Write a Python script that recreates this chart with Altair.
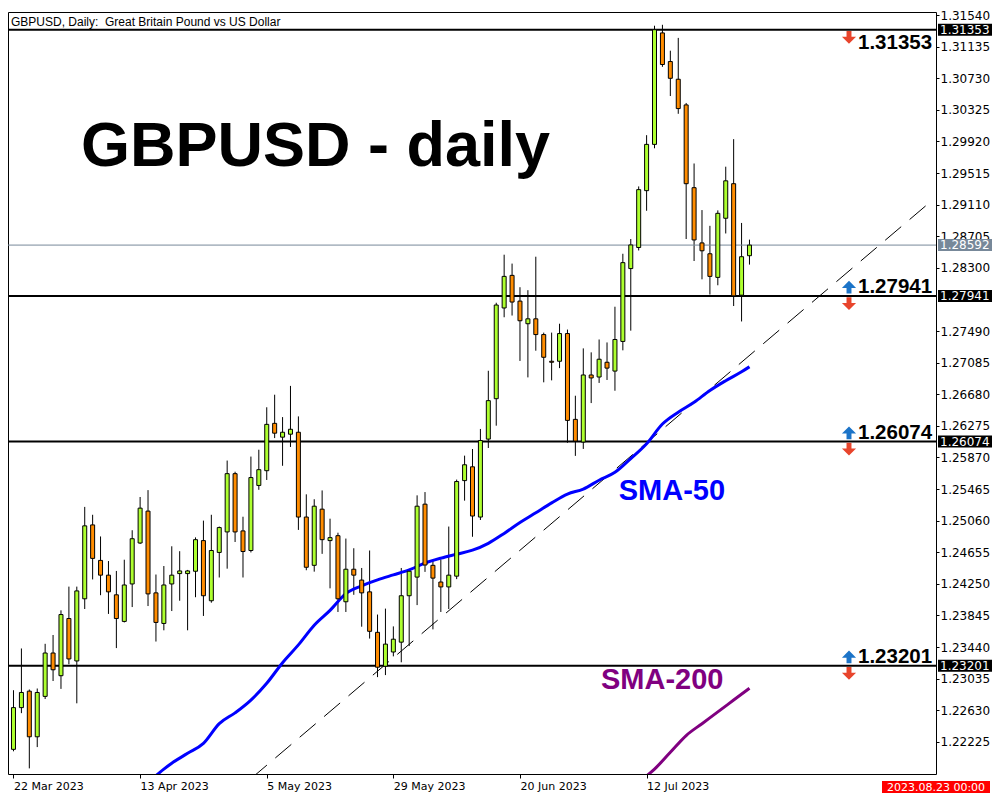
import altair as alt
import pandas as pd

# ---------------- data ----------------
opens = [1.22128, 1.22663, 1.22874, 1.22289, 1.22807, 1.23363, 1.23072, 1.23805, 1.23261, 1.24058,
         1.25005, 1.24550, 1.24361, 1.24109, 1.23768, 1.24248, 1.24773, 1.25182, 1.24134, 1.23742,
         1.24248, 1.24381, 1.24381, 1.24411, 1.24804, 1.24033, 1.24652, 1.24915, 1.25662, 1.24928,
         1.24677, 1.25511, 1.25700, 1.26307, 1.26130, 1.26168, 1.26193, 1.25106, 1.24487, 1.25207,
         1.24804, 1.24867, 1.24020, 1.24437, 1.24298, 1.24147, 1.23628, 1.23193, 1.23376, 1.23502,
         1.24097, 1.24336, 1.25271, 1.24487, 1.24273, 1.24210, 1.24348, 1.25573, 1.25750, 1.25106,
         1.26105, 1.26623, 1.27786, 1.28204, 1.27874, 1.27584, 1.27647, 1.27445, 1.27103, 1.27103,
         1.27458, 1.26358, 1.26067, 1.26927, 1.26901, 1.27090, 1.26977, 1.27357, 1.28291, 1.28561,
         1.29290, 1.29883, 1.31312, 1.30945, 1.30718, 1.30389, 1.29328, 1.28620, 1.28481, 1.28178,
         1.28936, 1.29379, 1.27950, 1.28456]
highs = [1.22886, 1.23421, 1.22895, 1.22908, 1.23481, 1.23594, 1.23910, 1.24214, 1.24214, 1.25236,
         1.25135, 1.24857, 1.24542, 1.24415, 1.24559, 1.24937, 1.25363, 1.25451, 1.24369, 1.24478,
         1.24731, 1.24668, 1.24428, 1.24845, 1.25060, 1.25135, 1.24984, 1.25830, 1.25687, 1.25110,
         1.25881, 1.25969, 1.26513, 1.26674, 1.26387, 1.26787, 1.26396, 1.25397, 1.25334, 1.25447,
         1.25085, 1.24905, 1.24830, 1.24706, 1.24453, 1.24677, 1.23856, 1.23932, 1.23704, 1.24453,
         1.24424, 1.25384, 1.25426, 1.24542, 1.24563, 1.24984, 1.25586, 1.25893, 1.25978, 1.26235,
         1.26981, 1.27853, 1.28469, 1.28355, 1.28052, 1.28014, 1.28443, 1.27470, 1.27470, 1.27584,
         1.27509, 1.26661, 1.27268, 1.27217, 1.27382, 1.27344, 1.27802, 1.28481, 1.28670, 1.29344,
         1.30001, 1.31404, 1.31416, 1.31084, 1.31248, 1.30414, 1.29638, 1.29041, 1.28839, 1.29037,
         1.29597, 1.29950, 1.28876, 1.28662]
lows = [1.22103, 1.22592, 1.21884, 1.22157, 1.22773, 1.23004, 1.22903, 1.23219, 1.22718, 1.23927,
        1.24306, 1.24104, 1.23864, 1.23426, 1.23755, 1.23952, 1.24760, 1.23965, 1.23510, 1.23654,
        1.23901, 1.24033, 1.23654, 1.24078, 1.23838, 1.24008, 1.24331, 1.24444, 1.24786, 1.24331,
        1.24652, 1.25455, 1.25581, 1.26118, 1.25763, 1.26004, 1.24941, 1.24424, 1.24406, 1.24634,
        1.24192, 1.23889, 1.23889, 1.24109, 1.23700, 1.23548, 1.23054, 1.23080, 1.23320, 1.23244,
        1.23452, 1.23977, 1.24403, 1.23666, 1.23889, 1.23927, 1.24310, 1.25316, 1.24853, 1.25068,
        1.25991, 1.26277, 1.27667, 1.27689, 1.27107, 1.26896, 1.27238, 1.26833, 1.26858, 1.27015,
        1.26058, 1.25890, 1.25979, 1.26567, 1.26825, 1.26863, 1.26725, 1.27243, 1.27495, 1.28523,
        1.29032, 1.29833, 1.30877, 1.30503, 1.30275, 1.28670, 1.28388, 1.28153, 1.27958, 1.28077,
        1.28741, 1.27811, 1.27613, 1.28342]
closes = [1.22663, 1.22857, 1.22289, 1.22857, 1.23363, 1.23148, 1.23856, 1.23287, 1.24159, 1.24993,
          1.24576, 1.24361, 1.24147, 1.23805, 1.24235, 1.24828, 1.25220, 1.24121, 1.23755, 1.24235,
          1.24361, 1.24415, 1.24415, 1.24816, 1.24097, 1.24677, 1.24971, 1.25662, 1.24915, 1.24664,
          1.25612, 1.25713, 1.26294, 1.26181, 1.26193, 1.26231, 1.25106, 1.24462, 1.25245, 1.24816,
          1.24842, 1.24058, 1.24437, 1.24361, 1.24134, 1.23641, 1.23181, 1.23477, 1.23540, 1.24097,
          1.24411, 1.25245, 1.24491, 1.24323, 1.24210, 1.24361, 1.25561, 1.25776, 1.25119, 1.26087,
          1.26598, 1.27824, 1.28191, 1.27862, 1.27622, 1.27647, 1.27445, 1.27154, 1.27090, 1.27458,
          1.26345, 1.26080, 1.26927, 1.26889, 1.27129, 1.27015, 1.27382, 1.28367, 1.28594, 1.29303,
          1.29883, 1.31353, 1.30907, 1.30730, 1.30342, 1.29379, 1.28658, 1.28519, 1.28191, 1.28999,
          1.29416, 1.27941, 1.28443, 1.28592]

sma50_idx = [18, 19, 20, 22, 24, 26, 28, 30, 32, 34, 36, 38, 40, 42, 44, 46, 48, 50, 52, 54, 56, 58,
             60, 62, 64, 66, 68, 70, 72, 74, 76, 78, 80, 82, 84, 86, 88, 90, 92, 93]
sma50_val = [1.21790, 1.21875, 1.21951, 1.22077, 1.22204, 1.22457, 1.22596, 1.22760, 1.22975,
             1.23239, 1.23467, 1.23720, 1.23910, 1.24125, 1.24225, 1.24301, 1.24365, 1.24428,
             1.24516, 1.24579, 1.24630, 1.24681, 1.24769, 1.24896, 1.25035, 1.25161, 1.25287,
             1.25401, 1.25464, 1.25578, 1.25679, 1.25856, 1.26046, 1.26298, 1.26450, 1.26576,
             1.26728, 1.26854, 1.26968, 1.27032]
sma200_idx = [80, 81, 83, 85, 87, 89, 91, 93]
sma200_val = [1.21787, 1.21875, 1.22090, 1.22305, 1.22457, 1.22608, 1.22760, 1.22912]

trend_idx = [30, 116]
trend_val = [1.21752, 1.29158]

levels = [1.31353, 1.27941, 1.26074, 1.23201]
current_price = 1.28592

date_idx = [0, 16, 32, 48, 64, 80]
date_lbl = ["22 Mar 2023", "13 Apr 2023", "5 May 2023", "29 May 2023", "20 Jun 2023", "12 Jul 2023"]

# price-scale labels visible on the right axis (1.27895 is hidden behind the 1.27941 box)
ytick_vals = [1.31540, 1.31135, 1.30730, 1.30325, 1.29920, 1.29515, 1.29110, 1.28705, 1.28300,
              1.27490, 1.27085, 1.26680, 1.26275, 1.25870, 1.25465, 1.25060, 1.24655, 1.24250,
              1.23845, 1.23440, 1.23035, 1.22630, 1.22225]

title_text = "GBPUSD - daily"
caption_text = "GBPUSD, Daily:\u00a0 Great Britain Pound vs US Dollar"
time_text = "2023.08.23 00:00"

# ---------------- build tables ----------------
candles = pd.DataFrame({
    "idx": list(range(len(opens))),
    "open": opens, "high": highs, "low": lows, "close": closes,
})
candles["dir"] = ["up" if c >= o else "down" for o, c in zip(opens, closes)]
sma50 = pd.DataFrame({"idx": sma50_idx, "v": sma50_val})
sma200 = pd.DataFrame({"idx": sma200_idx, "v": sma200_val})
trend = pd.DataFrame({"idx": trend_idx, "v": trend_val})
lev = pd.DataFrame({"p": levels, "t": [f"{v:.5f}" for v in levels]})
lev_top = lev.iloc[:1]
lev_rest = lev.iloc[1:]
cur = pd.DataFrame({"p": [current_price], "t": [f"{current_price:.5f}"]})

W, H = 928, 762
xs = alt.Scale(domain=[-0.0625, 115.9375], nice=False, zero=False)
ys = alt.Scale(domain=[1.21812, 1.31580], nice=False, zero=False)

label_expr = " : ".join(f"datum.value == {i} ? '{t}'" for i, t in zip(date_idx, date_lbl)) + " : ''"

x_axis = alt.Axis(values=date_idx, labelExpr=label_expr, labelAlign="left", tickSize=4,
                  labelPadding=2, grid=False, domain=False, labelFont="DejaVu Sans",
                  labelFontSize=11, labelColor="black", tickColor="black",
                  labelOverlap=False, labelFlush=False, zindex=0)
y_axis = alt.Axis(orient="right", values=ytick_vals, format=".5f", tickSize=3,
                  labelPadding=1, grid=False, domain=False, labelFont="DejaVu Sans",
                  labelFontSize=12, labelColor="black", tickColor="black",
                  labelOverlap=False, labelFlush=False, zindex=0)


def Xq(field):
    return alt.X(field, scale=xs, title=None, axis=x_axis)


def Yq(field):
    return alt.Y(field, scale=ys, title=None, axis=y_axis)


base = alt.Chart(candles)

wicks = base.mark_rule(color="black", strokeWidth=1, clip=True).encode(
    x=Xq("idx:Q"), y=Yq("low:Q"), y2="high:Q")
bodies = base.mark_bar(size=4, stroke="black", strokeWidth=1, clip=True).encode(
    x=Xq("idx:Q"), y=Yq("open:Q"), y2="close:Q",
    color=alt.Color("dir:N", scale=alt.Scale(domain=["up", "down"], range=["#ADFF2F", "#FF8C00"]),
                    legend=None))

cur_line = alt.Chart(cur).mark_rule(color="#778899", strokeWidth=1).encode(y=Yq("p:Q"))
lev_lines = alt.Chart(lev).mark_rule(color="black", strokeWidth=2).encode(y=Yq("p:Q"))

trend_line = alt.Chart(trend).mark_line(color="black", strokeWidth=1, strokeDash=[21, 11],
                                        clip=True).encode(x=Xq("idx:Q"), y=Yq("v:Q"))
sma50_line = alt.Chart(sma50).mark_line(color="#0000FF", strokeWidth=3, clip=True,
                                        interpolate="monotone").encode(x=Xq("idx:Q"), y=Yq("v:Q"))
sma200_line = alt.Chart(sma200).mark_line(color="#800080", strokeWidth=3, clip=True,
                                          interpolate="monotone").encode(x=Xq("idx:Q"), y=Yq("v:Q"))

up_arrow = "M0,-1 L1,0 L0.35,0 L0.35,0.8 L-0.35,0.8 L-0.35,0 L-1,0 Z"
down_arrow = "M0,1 L1,0 L0.35,0 L0.35,-0.8 L-0.35,-0.8 L-0.35,0 L-1,0 Z"

arrows_up = alt.Chart(lev_rest).mark_point(shape=up_arrow, size=200, filled=True, color="#1C74C8",
                                           opacity=1, yOffset=-8, strokeWidth=0).encode(
    x=alt.value(841), y=Yq("p:Q"))
arrows_dn = alt.Chart(lev).mark_point(shape=down_arrow, size=200, filled=True, color="#E8452C",
                                      opacity=1, yOffset=7, strokeWidth=0).encode(
    x=alt.value(841), y=Yq("p:Q"))

lev_text_rest = alt.Chart(lev_rest).mark_text(align="left", baseline="alphabetic", dy=-3,
                                              font="Liberation Sans", fontWeight="bold",
                                              fontSize=20.5, color="black").encode(
    x=alt.value(850), y=Yq("p:Q"), text="t:N")
lev_text_top = alt.Chart(lev_top).mark_text(align="left", baseline="alphabetic", dy=19,
                                            font="Liberation Sans", fontWeight="bold",
                                            fontSize=20.5, color="black").encode(
    x=alt.value(850), y=Yq("p:Q"), text="t:N")

# right-axis price boxes
lev_boxes = alt.Chart(lev).mark_rule(color="black", strokeWidth=12, strokeCap="butt").encode(
    x=alt.value(930), x2=alt.value(986), y=Yq("p:Q"))
lev_box_text = alt.Chart(lev).mark_text(align="left", baseline="middle", font="DejaVu Sans",
                                        fontSize=12, color="white").encode(
    x=alt.value(932), y=Yq("p:Q"), text="t:N")
cur_box = alt.Chart(cur).mark_rule(color="#778899", strokeWidth=12, strokeCap="butt").encode(
    x=alt.value(930), x2=alt.value(986), y=Yq("p:Q"))
cur_box_text = alt.Chart(cur).mark_text(align="left", baseline="middle", font="DejaVu Sans",
                                        fontSize=12, color="white").encode(
    x=alt.value(932), y=Yq("p:Q"), text="t:N")

# text annotations
time_df = pd.DataFrame({"t": [time_text]})
time_box = alt.Chart(time_df).mark_rule(color="#FF0000", strokeWidth=12, strokeCap="butt").encode(
    x=alt.value(874), x2=alt.value(982), y=alt.value(775))
time_txt = alt.Chart(time_df).mark_text(align="center", baseline="middle", font="DejaVu Sans",
                                        fontSize=11, color="white").encode(
    x=alt.value(928), y=alt.value(775.5), text="t:N")

title = alt.Chart(pd.DataFrame({"t": [title_text]})).mark_text(
    align="left", baseline="alphabetic", font="Liberation Sans", fontWeight="bold",
    fontSize=63, color="black").encode(x=alt.value(73), y=alt.value(153.8), text="t:N")
caption = alt.Chart(pd.DataFrame({"t": [caption_text]})).mark_text(
    align="left", baseline="alphabetic", font="Liberation Sans", fontSize=12,
    color="black").encode(x=alt.value(3), y=alt.value(14.3), text="t:N")
sma50_lbl = alt.Chart(pd.DataFrame({"t": ["SMA-50"]})).mark_text(
    align="left", baseline="alphabetic", font="Liberation Sans", fontWeight="bold",
    fontSize=29, color="#0000FF").encode(x=alt.value(610.7), y=alt.value(487.7), text="t:N")
sma200_lbl = alt.Chart(pd.DataFrame({"t": ["SMA-200"]})).mark_text(
    align="left", baseline="alphabetic", font="Liberation Sans", fontWeight="bold",
    fontSize=29, color="#800080").encode(x=alt.value(593), y=alt.value(677.2), text="t:N")

chart = alt.layer(
    wicks, cur_line, lev_lines, trend_line, sma50_line, sma200_line, bodies,
    arrows_up, arrows_dn, lev_text_rest, lev_text_top,
    cur_box, cur_box_text, lev_boxes, lev_box_text, time_box, time_txt,
    title, caption, sma50_lbl, sma200_lbl,
).properties(
    width=W, height=H,
    autosize=alt.AutoSizeParams(type="none"),
    padding={"left": 0, "top": 4, "right": 56, "bottom": 24},
    background="white",
).configure_view(stroke="black", strokeWidth=1)

chart.save("out.html", embed_options={"renderer": "svg", "actions": False})
